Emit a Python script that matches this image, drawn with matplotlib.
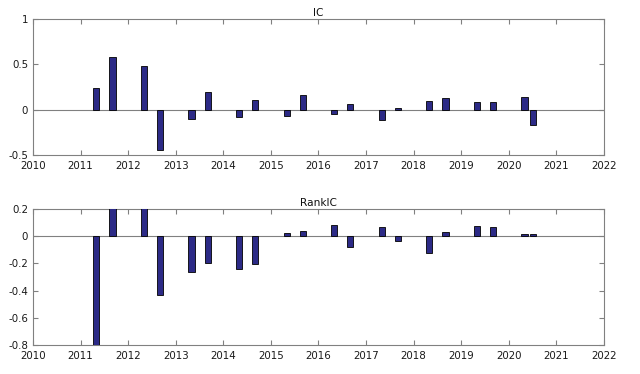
import matplotlib.pyplot as plt

# report dates as fractional years
dates = [2011.33, 2011.67, 2012.33, 2012.67, 2013.33, 2013.67, 2014.33, 2014.67,
         2015.33, 2015.67, 2016.33, 2016.67, 2017.33, 2017.67, 2018.33, 2018.67,
         2019.33, 2019.67, 2020.33, 2020.50]

ic = [0.24, 0.585, 0.485, -0.44, -0.10, 0.20, -0.085, 0.107,
      -0.066, 0.162, -0.044, 0.066, -0.11, 0.022, 0.092, 0.126,
      0.081, 0.088, 0.137, -0.169]

rank_ic = [-0.85, 0.25, 0.22, -0.431, -0.262, -0.194, -0.243, -0.201,
           0.025, 0.039, 0.086, -0.078, 0.066, -0.037, -0.12, 0.029,
           0.078, 0.071, 0.017, 0.017]

years = list(range(2010, 2023))

plt.rcParams['font.family'] = ['DejaVu Sans']
plt.rcParams['font.size'] = 7.4

fig = plt.figure(figsize=(6.4, 3.74), dpi=100)
ax1 = fig.add_axes([33/640, 1-155/374, 571/640, 136/374])
ax2 = fig.add_axes([33/640, 1-345/374, 571/640, 136/374])

bar_color = '#2c2a86'
panels = [(ax1, ic, 'IC', (-0.5, 1), [-0.5, 0, 0.5, 1]),
          (ax2, rank_ic, 'RankIC', (-0.8, 0.2), [-0.8, -0.6, -0.4, -0.2, 0, 0.2])]

for ax, vals, title, ylim, yticks in panels:
    ax.bar(dates, vals, width=0.13, color=bar_color, edgecolor='black', linewidth=0.6, zorder=3)
    ax.axhline(0, color='#808080', linewidth=0.8, zorder=2)
    ax.set_xlim(2010, 2022)
    ax.set_ylim(*ylim)
    ax.set_xticks(years)
    ax.set_xticklabels([str(y) for y in years])
    ax.set_yticks(yticks)
    ax.set_yticklabels(['%g' % t for t in yticks])
    ax.tick_params(direction='in', length=3.5, top=True, right=True, color='#808080',
                   labelcolor='#1a1a1a')
    ax.tick_params(axis='x', pad=4.5)
    ax.tick_params(axis='y', pad=3.5)
    for s in ax.spines.values():
        s.set_color('#808080')
        s.set_linewidth(0.8)
    ax.set_title(title, fontsize=7.6, pad=2, color='#111111')

fig.savefig('out.png', dpi=100)
